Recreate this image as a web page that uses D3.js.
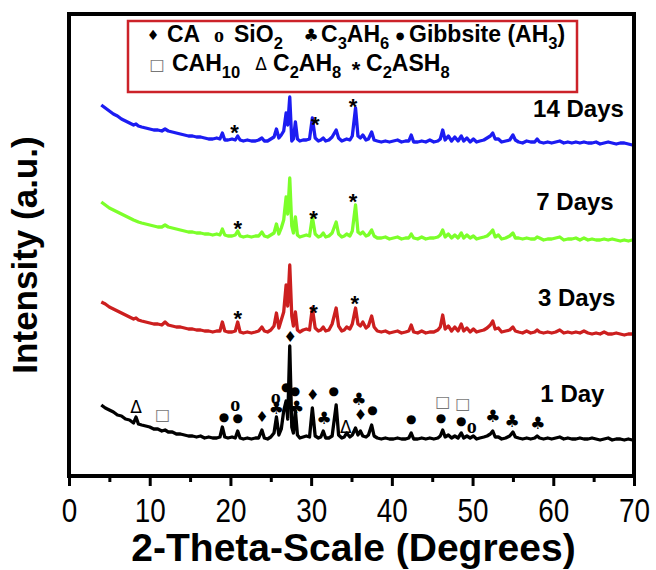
<!DOCTYPE html>
<html>
<head>
<meta charset="utf-8">
<style>
  body { margin: 0; background: white; }
  svg { display: block; font-family: 'Liberation Sans', Arial, sans-serif; }
</style>
</head>
<body>
<svg id="chart" width="656" height="570"></svg>
<script src="https://d3js.org/d3.v7.min.js"></script>
<script>

// 2-theta grid (degrees)
let twoTheta = [
  4, 4.5, 5, 5.5, 6, 6.5, 7, 7.5, 8, 8.3,
  8.6, 9, 9.5, 10, 10.5, 11, 11.5, 11.9, 12.3, 12.8,
  13.3, 13.8, 14.3, 14.8, 15.3, 15.8, 16.3, 16.8, 17.3, 17.8,
  18.3, 18.7, 19.0, 19.3, 19.7, 20.2, 20.6, 20.9, 21.2, 21.6,
  22.1, 22.6, 23.1, 23.5, 23.9, 24.2, 24.6, 25.0, 25.4, 25.7,
  26.0, 26.3, 26.6, 26.9, 27.1, 27.35, 27.6, 27.8, 28.05, 28.3,
  28.6, 29.0, 29.4, 29.8, 30.15, 30.5, 30.9, 31.2, 31.5, 31.8,
  32.2, 32.6, 33.1, 33.4, 33.8, 34.1, 34.4, 34.8, 35.1, 35.5,
  35.8, 36.1, 36.4, 36.8, 37.1, 37.5, 37.8, 38.2, 38.7, 39.2,
  39.7, 40.2, 40.7, 41.2, 41.7, 42.1, 42.4, 42.7, 43.2, 43.7,
  44.2, 44.7, 45.2, 45.7, 46.0, 46.3, 46.6, 47.0, 47.4, 47.8,
  48.2, 48.6, 48.9, 49.3, 49.7, 50.1, 50.5, 50.9, 51.4, 51.8,
  52.2, 52.5, 52.8, 53.2, 53.6, 54.1, 54.6, 55.0, 55.3, 55.7,
  56.2, 56.7, 57.2, 57.7, 58.0, 58.3, 58.8, 59.3, 59.8, 60.3,
  60.8, 61.3, 61.8, 62.3, 62.8, 63.3, 63.8, 64.3, 64.8, 65.3,
  65.8, 66.3, 66.8, 67.3, 67.8, 68.3, 68.8, 69.3, 69.8
]

// intensities above each pattern's own baseline (a.u.)
let day1 = [
  36, 33, 31, 29, 26, 25, 22, 21, 18, 24,
  17, 16, 15, 14, 12, 12, 10, 11, 9, 9,
  7, 7, 6, 5, 5, 4, 5, 3, 4, 3,
  3, 4, 14, 4, 3, 4, 3, 10, 3, 2,
  3, 2, 3, 3, 11, 3, 2, 4, 8, 24,
  6, 12, 30, 40, 22, 95, 14, 8, 30, 6,
  3, 4, 5, 4, 33, 5, 3, 4, 10, 3,
  3, 5, 36, 6, 3, 4, 8, 4, 6, 13,
  6, 10, 5, 4, 6, 16, 5, 3, 2, 3,
  2, 2, 3, 2, 2, 3, 8, 2, 2, 3,
  2, 3, 2, 3, 5, 11, 4, 6, 3, 5,
  3, 8, 3, 5, 3, 5, 2, 3, 4, 5,
  7, 10, 4, 4, 2, 3, 5, 9, 4, 3,
  2, 3, 2, 3, 5, 3, 2, 3, 2, 3,
  4, 2, 3, 2, 2, 3, 2, 2, 3, 2,
  1, 2, 3, 1, 2, 2, 1, 2, 1
]
let day3 = [
  34, 32, 29, 27, 25, 23, 21, 19, 17, 18,
  16, 15, 14, 13, 12, 12, 11, 14, 11, 10,
  9, 9, 8, 7, 7, 6, 6, 5, 5, 4,
  5, 5, 14, 5, 4, 4, 5, 14, 4, 3,
  4, 3, 4, 5, 9, 5, 4, 6, 10, 23,
  8, 16, 24, 51, 30, 71, 20, 10, 24, 6,
  4, 6, 7, 6, 28, 8, 5, 6, 9, 5,
  6, 12, 28, 10, 5, 6, 9, 7, 12, 28,
  12, 10, 14, 8, 10, 20, 9, 5, 4, 5,
  3, 4, 5, 3, 4, 5, 11, 4, 3, 5,
  3, 4, 4, 6, 9, 21, 7, 10, 5, 9,
  5, 12, 5, 8, 4, 7, 4, 5, 6, 8,
  11, 15, 7, 8, 4, 5, 6, 9, 5, 4,
  3, 5, 3, 4, 6, 4, 3, 4, 3, 4,
  6, 3, 4, 3, 4, 3, 5, 3, 2, 3,
  2, 4, 2, 2, 3, 2, 1, 2, 2
]
let day7 = [
  40, 37, 34, 32, 30, 28, 26, 24, 22, 21,
  20, 19, 18, 17, 16, 15, 15, 17, 15, 14,
  13, 12, 11, 10, 10, 9, 9, 8, 8, 7,
  8, 7, 13, 7, 6, 6, 7, 11, 6, 5,
  6, 5, 6, 6, 10, 6, 5, 7, 9, 18,
  8, 14, 22, 45, 28, 64, 16, 9, 25, 7,
  5, 6, 7, 6, 25, 8, 5, 6, 9, 5,
  6, 9, 20, 8, 5, 6, 8, 6, 11, 37,
  10, 8, 10, 6, 7, 12, 6, 4, 4, 5,
  3, 4, 5, 3, 4, 4, 8, 4, 3, 5,
  3, 4, 4, 5, 7, 12, 5, 8, 4, 7,
  4, 9, 4, 7, 4, 6, 3, 4, 5, 6,
  9, 12, 5, 7, 3, 4, 6, 9, 4, 4,
  3, 4, 3, 3, 5, 4, 2, 3, 3, 4,
  5, 2, 3, 3, 4, 2, 4, 2, 3, 2,
  2, 3, 2, 3, 2, 1, 2, 1, 2
]
let day14 = [
  40, 37, 34, 31, 29, 26, 24, 22, 20, 21,
  19, 18, 17, 16, 15, 15, 14, 16, 14, 13,
  12, 11, 10, 9, 9, 8, 8, 7, 6, 6,
  7, 6, 12, 5, 5, 6, 5, 9, 5, 4,
  5, 4, 4, 5, 7, 4, 4, 6, 8, 16,
  7, 10, 14, 32, 20, 48, 4, 6, 23, 6,
  4, 5, 5, 6, 27, 7, 4, 5, 7, 4,
  5, 8, 15, 7, 4, 5, 6, 5, 9, 37,
  9, 7, 10, 5, 6, 13, 5, 4, 3, 4,
  3, 4, 5, 3, 4, 4, 10, 3, 3, 4,
  3, 5, 3, 4, 6, 15, 5, 9, 4, 8,
  4, 9, 4, 7, 3, 6, 3, 4, 5, 7,
  9, 12, 6, 6, 3, 4, 5, 10, 5, 3,
  2, 4, 3, 3, 6, 3, 2, 3, 2, 3,
  4, 2, 3, 2, 3, 2, 3, 2, 2, 3,
  1, 2, 3, 2, 1, 2, 2, 1, 0
]

let seriesNames = ["1 Day", "3 Days", "7 Days", "14 Days"]
let seriesOffsets = [35, 140, 234, 331]

let phaseNames = ["CA", "SiO{2}", "C{3}AH{6}", "Gibbsite (AH{3})", "CAH{10}", "C{2}AH{8}", "C{2}ASH{8}"]
let phaseSymbols = ["♦", "o", "♣", "●", "□", "Δ", "*"]

// [phase index, 2-theta, height above the 1 Day baseline]
let day1Marks = [
  [5, 8.3, 34], [4, 11.6, 27], [3, 19.2, 24], [1, 20.6, 37], [3, 20.9, 23],
  [0, 23.9, 24], [1, 25.6, 44], [2, 25.7, 33], [3, 26.9, 54], [3, 28.0, 50],
  [2, 28.2, 34], [0, 27.4, 104], [0, 30.2, 46], [2, 31.6, 23], [3, 32.8, 50],
  [5, 34.3, 14], [2, 35.9, 42], [0, 36.1, 26], [3, 37.6, 31], [3, 42.4, 22],
  [4, 46.3, 40], [3, 46.1, 23], [4, 48.8, 38], [3, 48.6, 20], [1, 49.9, 15],
  [2, 52.5, 25], [2, 54.9, 20], [2, 58.1, 18]
]
// C2ASH8 stars on the later patterns: [series index, 2-theta, height]
let starMarks = [
  [1, 20.9, 23], [1, 30.3, 29], [1, 35.4, 38],
  [2, 20.9, 19], [2, 30.3, 29], [2, 35.2, 46],
  [3, 20.5, 18], [3, 30.5, 26], [3, 35.2, 44]
]

let majorTicks = [0, 10, 20, 30, 40, 50, 60, 70]
let minorTicks = [5, 15, 25, 35, 45, 55, 65]

let svg = d3.select("#chart")
let x = d3.scaleLinear().domain([0, 70]).range([69, 634])
let y = d3.scaleLinear().domain([0, 462]).range([476, 14])

let colors = ["#000000", "#cc1f1f", "#7cff2a", "#1c1cf2"]
let series = [day1, day3, day7, day14]

let symStyle = [
  {size: 15, family: "DejaVu Sans", weight: "normal", fill: "black"},
  {size: 20, family: "Liberation Serif", weight: "bold", fill: "black"},
  {size: 17, family: "DejaVu Sans", weight: "normal", fill: "black"},
  {size: 12, family: "DejaVu Sans", weight: "normal", fill: "black"},
  {size: 16, family: "DejaVu Sans", weight: "normal", fill: "#777"},
  {size: 17, family: "DejaVu Sans", weight: "normal", fill: "black"},
  {size: 22, family: "Liberation Sans", weight: "bold", fill: "black"}
]

function symbol(g, p, cx, cy, size) {
  let s = symStyle[p]
  return g.append("text")
    .attr("x", cx).attr("y", cy)
    .attr("text-anchor", "middle")
    .attr("dy", p == 6 ? "0.6em" : "0.35em")
    .attr("font-size", size || s.size)
    .attr("font-family", s.family)
    .attr("font-weight", s.weight)
    .attr("fill", s.fill)
    .text(phaseSymbols[p])
}

// patterns
let line = d3.line().x((d, i) => x(twoTheta[i]))
series.forEach((vals, k) => {
  svg.append("path")
    .datum(vals)
    .attr("d", line.y(d => y(d + seriesOffsets[k])))
    .attr("fill", "none")
    .attr("stroke", colors[k])
    .attr("stroke-width", 3.3)
    .attr("stroke-linejoin", "round")
})

// phase marks
let marks = svg.append("g")
day1Marks.forEach(m => symbol(marks, m[0], x(m[1]), y(m[2] + seriesOffsets[0])))
starMarks.forEach(m => symbol(marks, 6, x(m[1]), y(m[2] + seriesOffsets[m[0]])))

// day labels
let labelPos = [[58.4, 39], [58.1, 30], [57.9, 32], [57.5, 28]]
seriesNames.forEach((name, k) => {
  svg.append("text")
    .attr("x", x(labelPos[k][0]))
    .attr("y", y(labelPos[k][1] + seriesOffsets[k]))
    .attr("font-size", 24)
    .attr("font-weight", "bold")
    .text(name)
})

// frame
svg.append("rect")
  .attr("x", x(0)).attr("y", y(462))
  .attr("width", x(70) - x(0)).attr("height", y(0) - y(462))
  .attr("fill", "none").attr("stroke", "black").attr("stroke-width", 4)

// x axis
let axis = svg.append("g")
  .attr("transform", `translate(0,${y(0)})`)
  .call(d3.axisBottom(x).tickValues(majorTicks).tickSize(10).tickPadding(12))
axis.select(".domain").remove()
axis.selectAll(".tick line").attr("stroke-width", 3)
axis.selectAll(".tick text")
  .attr("font-size", 34)
  .attr("font-family", "'Liberation Sans', Arial, sans-serif")
  .attr("transform", "scale(0.82,1)")
  .attr("fill", "black")

let minor = svg.append("g")
  .attr("transform", `translate(0,${y(0)})`)
  .call(d3.axisBottom(x).tickValues(minorTicks).tickSize(6).tickFormat(""))
minor.select(".domain").remove()
minor.selectAll(".tick line").attr("stroke-width", 3)

svg.append("text")
  .attr("x", (x(0) + x(70)) / 2 + 2).attr("y", 561)
  .attr("text-anchor", "middle")
  .attr("font-size", 39).attr("font-weight", "bold")
  .text("2-Theta-Scale (Degrees)")

svg.append("text")
  .attr("transform", "translate(37,255) rotate(-90)")
  .attr("text-anchor", "middle")
  .attr("font-size", 35).attr("font-weight", "bold")
  .text("Intensity (a.u.)")

// legend
svg.append("rect")
  .attr("x", 128).attr("y", 21).attr("width", 449).attr("height", 71)
  .attr("fill", "white").attr("stroke", "#cc2229").attr("stroke-width", 2.5)

function subText(g, str, tx, ty, size) {
  let t = g.append("text").attr("x", tx).attr("y", ty)
    .attr("font-size", size).attr("font-weight", "bold")
  let shift = 0
  str.split(/(\{[^}]*\})/).filter(s => s).forEach(part => {
    if (part[0] == "{") {
      t.append("tspan").attr("font-size", size * 0.72).attr("dy", size * 0.3 - shift).text(part.slice(1, -1))
      shift = size * 0.3
    } else {
      t.append("tspan").attr("dy", -shift).text(part)
      shift = 0
    }
  })
  return t
}

let legend = svg.append("g")
// symbol centre and name start for each legend entry
let legendSlots = [[153, 167], [219, 234], [311, 321], [400, 409], [157, 172], [261, 273], [356, 366]]
let legendSizes = [14, 20, 17, 10, 16, 17, 22]
phaseNames.forEach((name, p) => {
  let base = p < 4 ? 42 : 71
  symbol(legend, p, legendSlots[p][0], base - 7, legendSizes[p])
  subText(legend, name, legendSlots[p][1], base, 23)
})

</script>
</body>
</html>
